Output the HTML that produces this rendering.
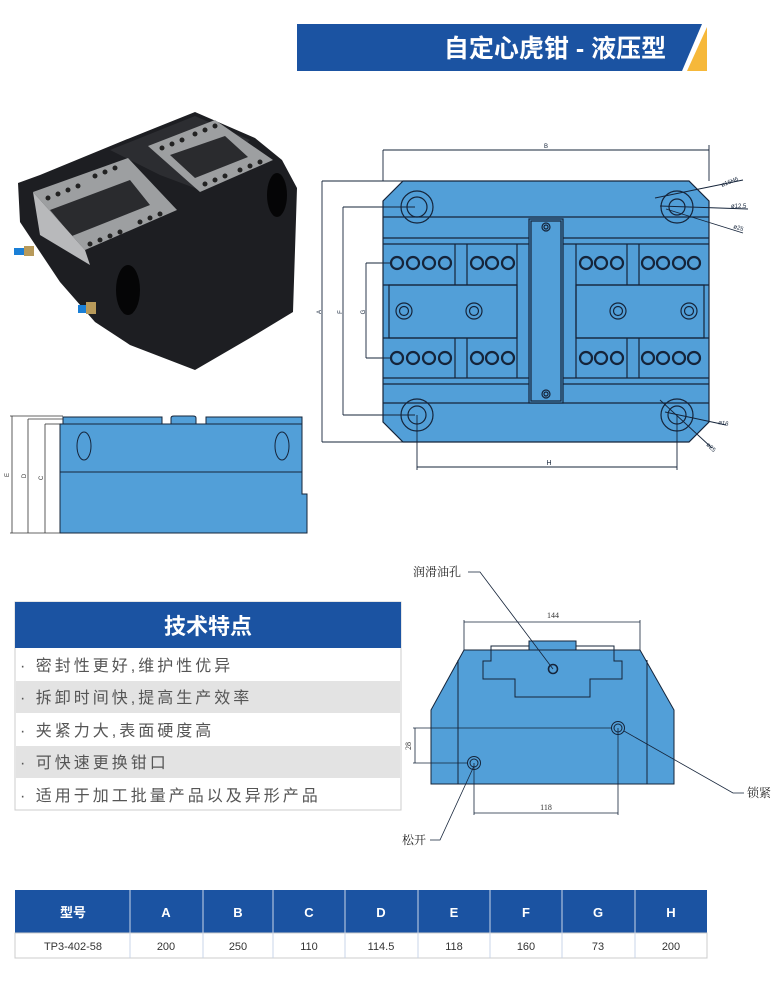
<!DOCTYPE html>
<html><head><meta charset="utf-8"><style>
html,body{margin:0;padding:0;background:#fff;}
svg{display:block;}
</style></head><body>
<svg width="780" height="985" viewBox="0 0 780 985" xmlns="http://www.w3.org/2000/svg" font-family="Liberation Sans, Noto Sans CJK SC, sans-serif">
<!-- header -->
<polygon points="297,24 702,24 682,71 297,71" fill="#1b53a2"/>
<polygon points="707,27 707,71 687,71" fill="#f6b83a"/>
<text x="555" y="57" text-anchor="middle" fill="#fff" font-size="25" font-weight="bold" font-family="Liberation Sans, Noto Sans CJK SC, sans-serif">自定心虎钳 - 液压型</text>

<!-- photo -->
<g>
<polygon points="18,183 40,175 125,140 195,112 255,138 282,160 297,188 293,312 250,338 195,370 130,345 95,322 60,282 20,222" fill="#1d1e22"/>
<polygon points="110,150 195,116 250,140 200,190 160,175" fill="#2c2d31"/>
<polygon points="33,192 128,158 177,210 85,250" fill="#9d9fa1"/>
<polygon points="50,210 130,180 150,205 72,236" fill="#2a2b2e"/>
<polygon points="148,146 215,120 273,160 200,192" fill="#9d9fa1"/>
<polygon points="170,155 225,136 248,157 195,178" fill="#2a2b2e"/>
<polygon points="33,192 85,250 90,265 40,235" fill="#b8b9bb"/>
<ellipse cx="128" cy="290" rx="12" ry="25" fill="#050506"/>
<ellipse cx="277" cy="195" rx="10" ry="22" fill="#050506"/>
<g fill="#222">
<circle cx="48" cy="198" r="2.5"/><circle cx="58" cy="194" r="2.5"/><circle cx="68" cy="190" r="2.5"/><circle cx="78" cy="186" r="2.5"/>
<circle cx="95" cy="176" r="2.5"/><circle cx="105" cy="172" r="2.5"/><circle cx="115" cy="168" r="2.5"/>
<circle cx="90" cy="244" r="2.5"/><circle cx="100" cy="240" r="2.5"/><circle cx="110" cy="236" r="2.5"/><circle cx="120" cy="232" r="2.5"/>
<circle cx="140" cy="222" r="2.5"/><circle cx="150" cy="218" r="2.5"/><circle cx="160" cy="214" r="2.5"/>
<circle cx="162" cy="148" r="2.5"/><circle cx="172" cy="144" r="2.5"/><circle cx="182" cy="140" r="2.5"/>
<circle cx="195" cy="134" r="2.5"/><circle cx="205" cy="130" r="2.5"/><circle cx="215" cy="126" r="2.5"/>
<circle cx="205" cy="184" r="2.5"/><circle cx="215" cy="180" r="2.5"/><circle cx="225" cy="176" r="2.5"/>
<circle cx="240" cy="170" r="2.5"/><circle cx="250" cy="166" r="2.5"/><circle cx="260" cy="162" r="2.5"/>
</g>
<rect x="14" y="248" width="10" height="7" fill="#1a7fd6"/><rect x="24" y="246" width="10" height="10" fill="#b89a5a"/>
<rect x="78" y="305" width="10" height="8" fill="#1a7fd6"/><rect x="86" y="302" width="10" height="12" fill="#b89a5a"/>
</g>

<!-- top view drawing -->
<g stroke="#15243a" stroke-width="1.2" fill="none">
<polygon points="403,181 689,181 709,201 709,422 689,442 403,442 383,422 383,201" fill="#529fd8"/>
<line x1="383" y1="217" x2="709" y2="217"/>
<line x1="383" y1="238" x2="709" y2="238"/>
<line x1="383" y1="244" x2="709" y2="244"/>
<line x1="383" y1="378" x2="709" y2="378"/>
<line x1="383" y1="384" x2="709" y2="384"/>
<line x1="383" y1="403" x2="709" y2="403"/>
<line x1="383" y1="285" x2="517" y2="285"/><line x1="383" y1="338" x2="517" y2="338"/>
<line x1="576" y1="285" x2="709" y2="285"/><line x1="576" y1="338" x2="709" y2="338"/>
<rect x="389" y="285" width="128" height="53"/>
<rect x="576" y="285" width="128" height="53"/>
<line x1="455" y1="244" x2="455" y2="285"/><line x1="467" y1="244" x2="467" y2="285"/>
<line x1="455" y1="338" x2="455" y2="378"/><line x1="467" y1="338" x2="467" y2="378"/>
<line x1="627" y1="244" x2="627" y2="285"/><line x1="639" y1="244" x2="639" y2="285"/>
<line x1="627" y1="338" x2="627" y2="378"/><line x1="639" y1="338" x2="639" y2="378"/>
<line x1="517" y1="244" x2="517" y2="378"/><line x1="576" y1="244" x2="576" y2="378"/>
<rect x="529" y="219" width="34" height="184" fill="#529fd8"/>
<rect x="531" y="221" width="30" height="180"/>
<circle cx="546" cy="227" r="4"/><circle cx="546" cy="227" r="2"/>
<circle cx="546" cy="394" r="4"/><circle cx="546" cy="394" r="2"/>
<g stroke-width="2.2">
<circle cx="397" cy="263" r="6"/><circle cx="413" cy="263" r="6"/><circle cx="429" cy="263" r="6"/><circle cx="445" cy="263" r="6"/>
<circle cx="477" cy="263" r="6"/><circle cx="492" cy="263" r="6"/><circle cx="508" cy="263" r="6"/>
<circle cx="586" cy="263" r="6"/><circle cx="601" cy="263" r="6"/><circle cx="617" cy="263" r="6"/>
<circle cx="648" cy="263" r="6"/><circle cx="663" cy="263" r="6"/><circle cx="679" cy="263" r="6"/><circle cx="694" cy="263" r="6"/>
<circle cx="397" cy="358" r="6"/><circle cx="413" cy="358" r="6"/><circle cx="429" cy="358" r="6"/><circle cx="445" cy="358" r="6"/>
<circle cx="477" cy="358" r="6"/><circle cx="492" cy="358" r="6"/><circle cx="508" cy="358" r="6"/>
<circle cx="586" cy="358" r="6"/><circle cx="601" cy="358" r="6"/><circle cx="617" cy="358" r="6"/>
<circle cx="648" cy="358" r="6"/><circle cx="663" cy="358" r="6"/><circle cx="679" cy="358" r="6"/><circle cx="694" cy="358" r="6"/>
</g>
<circle cx="404" cy="311" r="8"/><circle cx="404" cy="311" r="4.5"/>
<circle cx="474" cy="311" r="8"/><circle cx="474" cy="311" r="4.5"/>
<circle cx="618" cy="311" r="8"/><circle cx="618" cy="311" r="4.5"/>
<circle cx="689" cy="311" r="8"/><circle cx="689" cy="311" r="4.5"/>
<circle cx="417" cy="207" r="16"/><circle cx="417" cy="207" r="10"/>
<circle cx="677" cy="207" r="16"/><circle cx="677" cy="207" r="8"/>
<circle cx="417" cy="415" r="16"/><circle cx="417" cy="415" r="9"/>
<circle cx="677" cy="415" r="16"/><circle cx="677" cy="415" r="9"/>
<!-- dims -->
<g stroke-width="0.9">
<line x1="383" y1="150" x2="709" y2="150"/><line x1="383" y1="150" x2="383" y2="181"/><line x1="709" y1="145" x2="709" y2="181"/>
<line x1="322" y1="181" x2="322" y2="442"/><line x1="322" y1="181" x2="403" y2="181"/><line x1="322" y1="442" x2="403" y2="442"/>
<line x1="343" y1="207" x2="343" y2="415"/><line x1="343" y1="207" x2="415" y2="207"/><line x1="343" y1="415" x2="415" y2="415"/>
<line x1="366" y1="263" x2="366" y2="358"/><line x1="366" y1="263" x2="391" y2="263"/><line x1="366" y1="358" x2="391" y2="358"/>
<line x1="417" y1="415" x2="417" y2="470"/><line x1="677" y1="415" x2="677" y2="470"/><line x1="417" y1="467" x2="677" y2="467"/>
<line x1="655" y1="198" x2="743" y2="180"/><line x1="660" y1="206" x2="748" y2="209"/><line x1="666" y1="209" x2="743" y2="233"/>
<line x1="665" y1="412" x2="726" y2="425"/><line x1="660" y1="400" x2="712" y2="448"/>
</g>
</g>
<g font-size="6" fill="#15243a">
<text x="546" y="148" text-anchor="middle">B</text>
<text x="549" y="465" text-anchor="middle" font-size="7">H</text>
<text transform="translate(321,312) rotate(-90)" text-anchor="middle">A</text>
<text transform="translate(342,312) rotate(-90)" text-anchor="middle">F</text>
<text transform="translate(365,312) rotate(-90)" text-anchor="middle">G</text>
<text transform="translate(722,187) rotate(-22)">ø16H6</text>
<text x="731" y="208">ø12.5</text>
<text transform="translate(733,228) rotate(18)">ø25</text>
<text transform="translate(718,424) rotate(10)">ø16</text>
<text transform="translate(706,445) rotate(45)">ø25</text>
</g>

<!-- side view -->
<g stroke="#15243a" stroke-width="1" fill="#529fd8">
<polygon points="60,424 302,424 302,494 307,494 307,533 60,533"/>
<line x1="60" y1="472" x2="302" y2="472"/>
<path d="M63,424 V417 H162 V424 Z"/>
<path d="M171,424 V418 Q171,416 174,416 H193 Q196,416 196,418 V424 Z"/>
<path d="M206,424 V417 H302 V424 Z"/>
<ellipse cx="84" cy="446" rx="7" ry="14" fill="none"/>
<ellipse cx="282" cy="446" rx="7" ry="14" fill="none"/>
</g>
<g stroke="#333" stroke-width="0.8">
<line x1="12" y1="416" x2="12" y2="533"/><line x1="10" y1="416" x2="63" y2="416"/><line x1="10" y1="533" x2="60" y2="533"/>
<line x1="28" y1="419" x2="28" y2="533"/><line x1="28" y1="419" x2="63" y2="419"/>
<line x1="45" y1="424" x2="45" y2="533"/><line x1="45" y1="424" x2="60" y2="424"/>
</g>
<g font-size="6" fill="#333">
<text transform="translate(9,475) rotate(-90)" text-anchor="middle">E</text>
<text transform="translate(26,476) rotate(-90)" text-anchor="middle">D</text>
<text transform="translate(43,478) rotate(-90)" text-anchor="middle">C</text>
</g>

<!-- features table -->
<rect x="15" y="602" width="386" height="208" fill="#fff" stroke="#ccc" stroke-width="1"/>
<rect x="15" y="602" width="386" height="46" fill="#1b53a2"/>
<text x="208" y="634" text-anchor="middle" fill="#fff" font-size="22" font-weight="bold">技术特点</text>
<rect x="16" y="681" width="384" height="32" fill="#e3e3e3"/>
<rect x="16" y="746" width="384" height="32" fill="#e3e3e3"/>
<g font-size="16" fill="#555" letter-spacing="3">
<text x="20" y="671">· 密封性更好,维护性优异</text>
<text x="20" y="703">· 拆卸时间快,提高生产效率</text>
<text x="20" y="736">· 夹紧力大,表面硬度高</text>
<text x="20" y="768">· 可快速更换钳口</text>
<text x="20" y="801">· 适用于加工批量产品以及异形产品</text>
</g>

<!-- front view drawing -->
<g stroke="#15243a" stroke-width="1" fill="none">
<polygon points="464,650 640,650 674,710 674,784 431,784 431,710" fill="#529fd8"/>
<line x1="458" y1="660" x2="458" y2="784"/><line x1="647" y1="660" x2="647" y2="784"/>
<polygon points="491,646 614,646 614,661 622,661 622,679 590,679 590,697 515,697 515,679 483,679 483,661 491,661"/>
<rect x="529" y="641" width="47" height="9" fill="#529fd8"/>
<circle cx="553" cy="669" r="4.5" stroke-width="1.6"/>
<circle cx="618" cy="728" r="6.5"/><circle cx="618" cy="728" r="4"/>
<circle cx="474" cy="763" r="6.5"/><circle cx="474" cy="763" r="4"/>
<g stroke-width="0.8">
<line x1="464" y1="622" x2="640" y2="622"/><line x1="464" y1="620" x2="464" y2="650"/><line x1="640" y1="620" x2="640" y2="650"/>
<line x1="474" y1="813" x2="618" y2="813"/><line x1="474" y1="763" x2="474" y2="815"/><line x1="618" y1="728" x2="618" y2="815"/>
<line x1="415" y1="728" x2="415" y2="763"/><line x1="413" y1="728" x2="612" y2="728"/><line x1="413" y1="763" x2="468" y2="763"/>
<polyline points="468,572 480,572 553,669"/>
<polyline points="624,731 733,793 744,793"/>
<polyline points="430,840 440,840 474,766"/>
</g>
</g>
<g font-size="8" fill="#333" font-family="Liberation Serif, serif">
<text x="553" y="618" text-anchor="middle">144</text>
<text x="546" y="810" text-anchor="middle">118</text>
<text transform="translate(411,746) rotate(-90)" text-anchor="middle">28</text>
</g>
<g font-size="12" fill="#222" font-family="Liberation Serif, Noto Serif CJK SC, serif">
<text x="413" y="576">润滑油孔</text>
<text x="747" y="797">锁紧</text>
<text x="402" y="844">松开</text>
</g>

<!-- spec table -->
<rect x="15" y="890" width="692" height="43" fill="#1b53a2"/>
<rect x="15" y="933" width="692" height="25" fill="#fff" stroke="#ccc"/>
<g stroke="#c8d4e8" stroke-width="1">
<line x1="130" y1="890" x2="130" y2="958"/><line x1="203" y1="890" x2="203" y2="958"/>
<line x1="273" y1="890" x2="273" y2="958"/><line x1="345" y1="890" x2="345" y2="958"/>
<line x1="418" y1="890" x2="418" y2="958"/><line x1="490" y1="890" x2="490" y2="958"/>
<line x1="562" y1="890" x2="562" y2="958"/><line x1="635" y1="890" x2="635" y2="958"/>
</g>
<g font-size="13" fill="#fff" font-weight="bold" text-anchor="middle">
<text x="73" y="917">型号</text><text x="166" y="917">A</text><text x="238" y="917">B</text>
<text x="309" y="917">C</text><text x="381" y="917">D</text><text x="454" y="917">E</text>
<text x="526" y="917">F</text><text x="598" y="917">G</text><text x="671" y="917">H</text>
</g>
<g font-size="11" fill="#333" text-anchor="middle">
<text x="73" y="950">TP3-402-58</text><text x="166" y="950">200</text><text x="238" y="950">250</text>
<text x="309" y="950">110</text><text x="381" y="950">114.5</text><text x="454" y="950">118</text>
<text x="526" y="950">160</text><text x="598" y="950">73</text><text x="671" y="950">200</text>
</g>
</svg>
</body></html>
